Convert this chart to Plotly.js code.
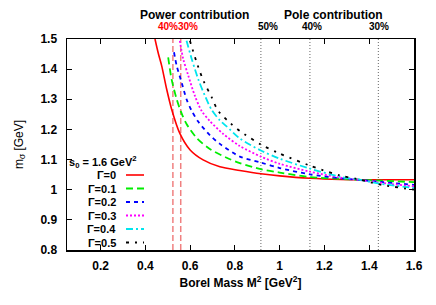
<!DOCTYPE html>
<html>
<head>
<meta charset="utf-8">
<script src="https://cdn.plot.ly/plotly-3.0.1.min.js"></script>
<style>html,body{margin:0;padding:0;background:#fff;}#chart{width:436px;height:305px;}</style>
</head>
<body>
<div id="chart"></div>
<script>
// ---- data ----
const gammaLabels = ["Γ=0", "Γ=0.1", "Γ=0.2", "Γ=0.3", "Γ=0.4", "Γ=0.5"];

const x_g0 = [0.443, 0.458, 0.473, 0.495, 0.517, 0.554, 0.6, 0.658, 0.733, 0.822, 0.916, 1.0, 1.135, 1.27, 1.4, 1.5, 1.6];
const y_g0 = [1.5, 1.452, 1.411, 1.334, 1.268, 1.187, 1.132, 1.099, 1.076, 1.064, 1.053, 1.046, 1.038, 1.034, 1.033, 1.033, 1.033];

const x_g1 = [0.502, 0.517, 0.54, 0.562, 0.584, 0.629, 0.688, 0.763, 0.822, 0.916, 1.0, 1.135, 1.27, 1.35, 1.45, 1.6];
const y_g1 = [1.439, 1.367, 1.30, 1.253, 1.218, 1.172, 1.135, 1.106, 1.088, 1.068, 1.057, 1.042, 1.036, 1.033, 1.03, 1.025];

const x_g2 = [0.528, 0.54, 0.562, 0.584, 0.607, 0.636, 0.688, 0.733, 0.822, 0.916, 1.0, 1.135, 1.27, 1.35, 1.45, 1.6];
const y_g2 = [1.456, 1.411, 1.356, 1.30, 1.262, 1.226, 1.181, 1.152, 1.11, 1.09, 1.072, 1.051, 1.038, 1.033, 1.026, 1.016];

const x_g3 = [0.554, 0.569, 0.592, 0.621, 0.651, 0.688, 0.748, 0.822, 0.916, 1.0, 1.135, 1.27, 1.35, 1.45, 1.6];
const y_g3 = [1.494, 1.434, 1.378, 1.312, 1.262, 1.228, 1.185, 1.145, 1.11, 1.086, 1.06, 1.04, 1.033, 1.023, 1.011];

const x_g4 = [0.584, 0.607, 0.636, 0.666, 0.696, 0.733, 0.763, 0.822, 0.916, 1.0, 1.135, 1.27, 1.35, 1.45, 1.6];
const y_g4 = [1.494, 1.434, 1.367, 1.312, 1.265, 1.23, 1.21, 1.17, 1.13, 1.103, 1.07, 1.043, 1.034, 1.02, 1.006];

const x_g5 = [0.599, 0.629, 0.659, 0.696, 0.725, 0.778, 0.822, 0.916, 1.0, 1.135, 1.27, 1.35, 1.45, 1.6];
const y_g5 = [1.494, 1.423, 1.362, 1.307, 1.262, 1.222, 1.195, 1.15, 1.12, 1.08, 1.047, 1.035, 1.017, 1.0];

// vertical marker lines (Borel mass values)
const powerLines = [0.523, 0.558];
const powerLabels = ["40%", "30%"];
const poleLines = [0.916, 1.135, 1.441];
const poleLabels = ["50%", "40%", "30%"];

const xTickVals = [0.2, 0.4, 0.6, 0.8, 1.0, 1.2, 1.4, 1.6];
const xTickText = ["0.2", "0.4", "0.6", "0.8", "1", "1.2", "1.4", "1.6"];
const yTickVals = [0.8, 0.9, 1.0, 1.1, 1.2, 1.3, 1.4, 1.5];
const yTickText = ["0.8", "0.9", "1", "1.1", "1.2", "1.3", "1.4", "1.5"];

// ---- styling ----
const FONT = "Liberation Sans, Arial, Helvetica, sans-serif";
const xs = [x_g0, x_g1, x_g2, x_g3, x_g4, x_g5];
const ys = [y_g0, y_g1, y_g2, y_g3, y_g4, y_g5];
const styles = [
  {color: "#ff0000", dash: "solid", width: 1.6},
  {color: "#00ee00", dash: "7px,4px", width: 1.8},
  {color: "#0000ff", dash: "4px,4px", width: 1.8},
  {color: "#ff00ff", dash: "2px,2px", width: 1.8},
  {color: "#00e5ee", dash: "7px,3px,2px,3px", width: 1.8},
  {color: "#000000", dash: "3px,6px,2px,6px", width: 1.8}
];

const traces = xs.map((x, i) => ({
  x: x, y: ys[i], type: "scatter", mode: "lines", name: gammaLabels[i],
  line: {color: styles[i].color, dash: styles[i].dash, width: styles[i].width, shape: "spline", smoothing: 0.8},
  showlegend: false, hoverinfo: "skip"
}));

const shapes = [];
const annotations = [];
powerLines.forEach((v, i) => {
  shapes.push({type: "line", xref: "x", yref: "paper", x0: v, x1: v, y0: 0, y1: 1,
    line: {color: "#f08080", width: 1.5, dash: "6px,3px"}, layer: "below"});
});
poleLines.forEach((v) => {
  shapes.push({type: "line", xref: "x", yref: "paper", x0: v, x1: v, y0: 0, y1: 1,
    line: {color: "#808080", width: 1.2, dash: "1px,2px"}, layer: "below"});
});

// top labels
annotations.push({xref: "paper", yref: "paper", x: 0.366, y: 1.114, text: "Power contribution", showarrow: false,
  font: {family: FONT, size: 12, color: "#000", weight: "bold"}, xanchor: "center", yanchor: "middle"});
annotations.push({xref: "paper", yref: "paper", x: 0.767, y: 1.114, text: "Pole contribution", showarrow: false,
  font: {family: FONT, size: 12, color: "#000", weight: "bold"}, xanchor: "center", yanchor: "middle"});
annotations.push({xref: "x", yref: "paper", x: powerLines[0], y: 1.057, text: powerLabels[0], showarrow: false,
  font: {family: FONT, size: 10, color: "#ff0000", weight: "bold"}, xanchor: "center", xshift: -5, yanchor: "middle"});
annotations.push({xref: "x", yref: "paper", x: powerLines[1], y: 1.057, text: powerLabels[1], showarrow: false,
  font: {family: FONT, size: 10, color: "#ff0000", weight: "bold"}, xanchor: "center", xshift: 7, yanchor: "middle"});
const poleShift = [7, 2, 1];
poleLines.forEach((v, i) => {
  annotations.push({xref: "x", yref: "paper", x: v, y: 1.057, text: poleLabels[i], showarrow: false,
    font: {family: FONT, size: 10, color: "#000", weight: "bold"}, xanchor: "center", xshift: poleShift[i], yanchor: "middle"});
});

// custom gnuplot-style key
const pxToPaperY = (py) => (250 - py) / 211;
const pxToPaperX = (px) => (px - 67) / 347;
annotations.push({xref: "paper", yref: "paper", x: pxToPaperX(67), y: pxToPaperY(161.5),
  text: "s<sub>0</sub> = 1.6 GeV<sup>2</sup>", showarrow: false, xanchor: "left", yanchor: "middle",
  font: {family: FONT, size: 11, color: "#000", weight: "bold"}});
gammaLabels.forEach((lab, i) => {
  const py = 175 + i * 13.5;
  annotations.push({xref: "paper", yref: "paper", x: pxToPaperX(118), y: pxToPaperY(py), text: lab,
    showarrow: false, xanchor: "right", yanchor: "middle",
    font: {family: FONT, size: 11, color: "#000", weight: "bold"}});
  shapes.push({type: "line", xref: "paper", yref: "paper", x0: pxToPaperX(126), x1: pxToPaperX(144),
    y0: pxToPaperY(py), y1: pxToPaperY(py),
    line: {color: styles[i].color, width: styles[i].width, dash: styles[i].dash}});
});

const layout = {
  width: 436, height: 305,
  margin: {l: 67, r: 22, t: 39, b: 55},
  paper_bgcolor: "#fff", plot_bgcolor: "#fff",
  font: {family: FONT, size: 12, color: "#000"},
  xaxis: {
    range: [0.05, 1.6], tickvals: xTickVals, ticktext: xTickText,
    ticks: "inside", ticklen: 5, tickwidth: 1, tickcolor: "#000",
    showline: true, linecolor: "#000", linewidth: 1.5, mirror: "ticks",
    showgrid: false, zeroline: false,
    tickfont: {family: FONT, size: 12, color: "#000", weight: "bold"},
    ticklabelstandoff: 4,
    title: {text: "Borel Mass M<sup>2</sup> [GeV<sup>2</sup>]", font: {family: FONT, size: 12, color: "#000", weight: "bold"}, standoff: 6}
  },
  yaxis: {
    range: [0.8, 1.5], tickvals: yTickVals, ticktext: yTickText,
    ticks: "inside", ticklen: 5, tickwidth: 1, tickcolor: "#000",
    showline: true, linecolor: "#000", linewidth: 1.5, mirror: "ticks",
    showgrid: false, zeroline: false,
    tickfont: {family: FONT, size: 12, color: "#000", weight: "bold"},
    ticklabelstandoff: 6,
    title: {text: "m<sub>σ</sub> [GeV]", font: {family: FONT, size: 12, color: "#000"}, standoff: 14}
  },
  shapes: shapes,
  annotations: annotations,
  showlegend: false
};

Plotly.newPlot("chart", traces, layout, {staticPlot: true, displayModeBar: false});
</script>
</body>
</html>
